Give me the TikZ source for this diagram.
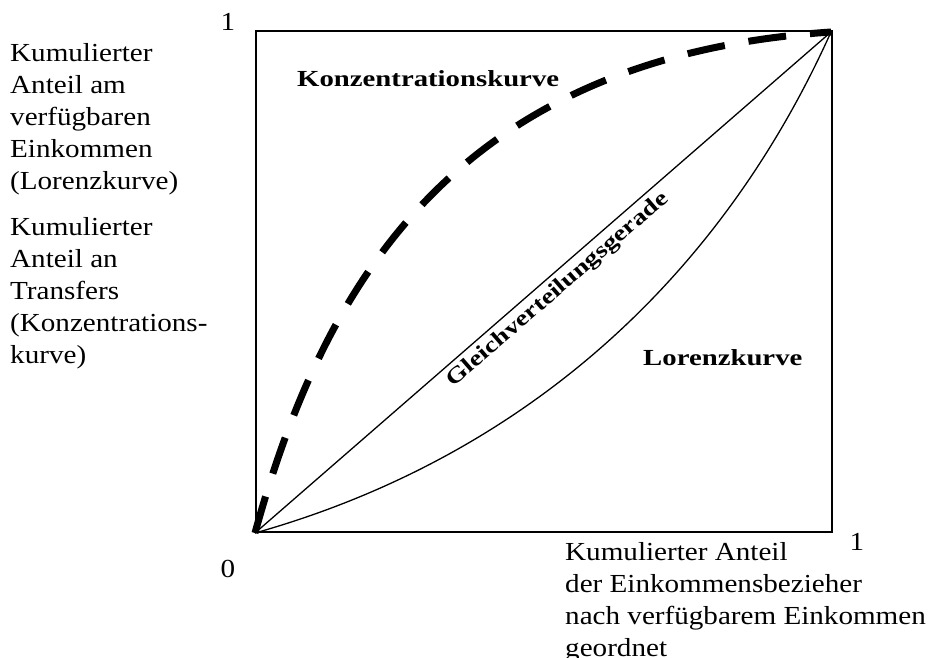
\documentclass[tikz,border=0pt]{standalone}
\usepackage{fontspec}
\setmainfont{Liberation Serif}[FakeStretch=1.12]
\newfontfamily\labelfont{Liberation Serif}[FakeStretch=1.25]
\begin{document}
\begin{tikzpicture}[
        x=1pt, y=-1pt,
        axislabel/.style={
            anchor=base west,
            inner sep=0pt,
            align=left,
            font=\fontsize{26}{32}\selectfont
        },
        tick/.style={
            anchor=base,
            inner sep=0pt,
            font=\fontsize{26}{32}\selectfont
        },
        curvelabel/.style={
            inner sep=0pt,
            font=\labelfont\fontsize{23}{28}\selectfont\bfseries
        },
        frame/.style={draw, line width=2pt},
        thinline/.style={line width=1.3pt},
        dashcurve/.style={line width=7pt, dash pattern=on 38pt off 24pt}
    ]
    \useasboundingbox (0,0) rectangle (943,657);

    \coordinate (O) at (255,533);
    \coordinate (E) at (831,32);

    \node[frame, minimum width=576pt, minimum height=501pt, inner sep=0pt, anchor=south west] (box) at (O) {};

    \node[tick] (one-y) at (228,30) {1};
    \node[tick] (zero) at (228,577) {0};
    \node[tick] (one-x) at (857,550) {1};

    % base anchor sits on the last line
    \node[axislabel] (ylab-a) at (10,189) {Kumulierter\\Anteil am\\verfügbaren\\Einkommen\\(Lorenzkurve)};
    \node[axislabel] (ylab-b) at (10,363) {Kumulierter\\Anteil an\\Transfers\\(Konzentrations-\\kurve)};
    \node[axislabel] (xlab) at (565,656) {Kumulierter Anteil\\der Einkommensbezieher\\nach verfügbarem Einkommen\\geordnet};

    % Gleichverteilungsgerade
    \draw[thinline] (O) -- (E);
    % Lorenzkurve
    \draw[thinline] (O) .. controls (514,460) and (716,288) .. (E);
    % Konzentrationskurve
    \draw[dashcurve] (O) .. controls (324,282) and (457,57) .. (E);

    \node[curvelabel, anchor=base west] (konz) at (297,86) {Konzentrationskurve};
    \node[curvelabel, anchor=base west] (lor) at (643,365) {Lorenzkurve};
    \node[curvelabel, rotate=41, font=\labelfont\fontsize{22}{28}\selectfont\bfseries] (gleich) at (558,290) {Gleichverteilungsgerade};

    \end{tikzpicture}
\end{document}
